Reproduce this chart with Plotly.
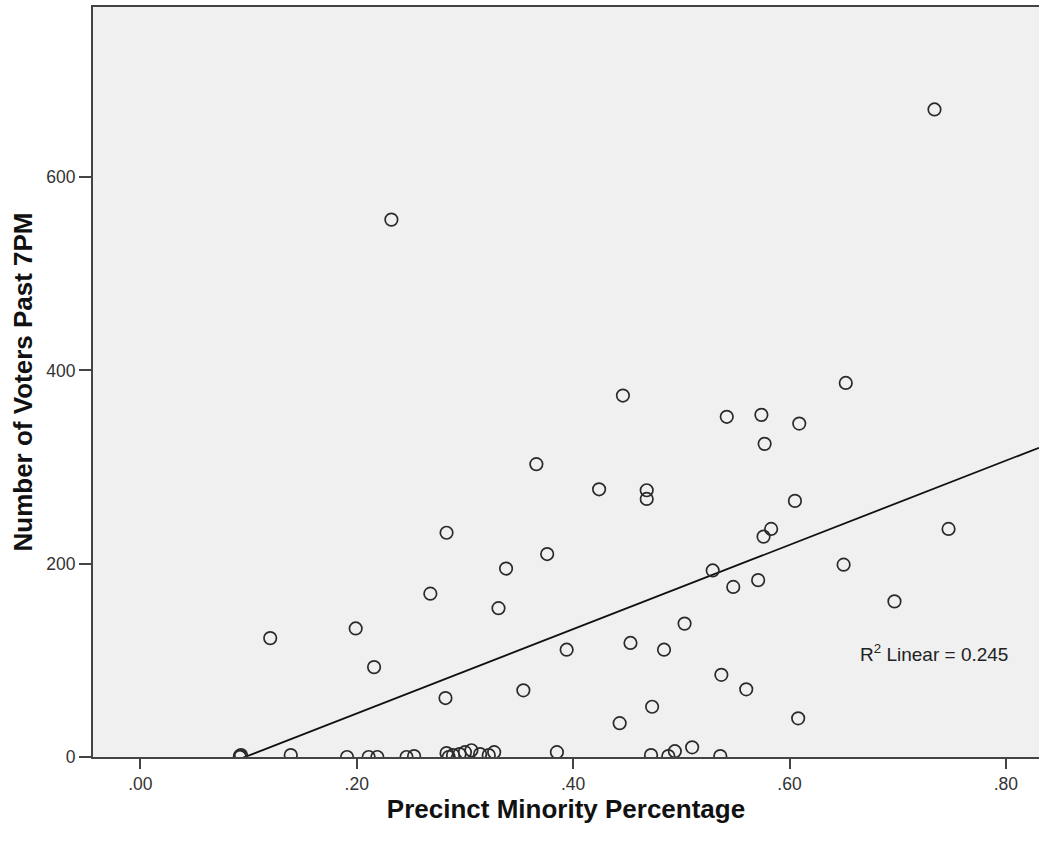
import numpy as np
import plotly.graph_objects as go

# Precinct minority percentage (x) and number of voters past 7PM (y)
minority_pct = [
    0.734, 0.232, 0.652, 0.446, 0.542, 0.574, 0.609, 0.577, 0.366, 0.424,
    0.468, 0.468, 0.605, 0.283, 0.583, 0.576, 0.747, 0.376, 0.338, 0.268,
    0.331, 0.199, 0.120, 0.216, 0.394, 0.354, 0.282,
    0.453, 0.484, 0.503, 0.529, 0.548, 0.571, 0.650, 0.697, 0.537, 0.560,
    0.608, 0.443, 0.473,
    0.092, 0.092, 0.093, 0.139, 0.191, 0.211, 0.219, 0.246, 0.253, 0.283,
    0.285, 0.289, 0.295, 0.300, 0.306, 0.314, 0.322, 0.327, 0.385, 0.472,
    0.488, 0.494, 0.510, 0.536,
]
voters_past_7pm = [
    670, 556, 387, 374, 352, 354, 345, 324, 303, 277,
    276, 267, 265, 232, 236, 228, 236, 210, 195, 169,
    154, 133, 123, 93, 111, 69, 61,
    118, 111, 138, 193, 176, 183, 199, 161, 85, 70,
    40, 35, 52,
    1, 0, 2, 2, 0, 0, 0, 0, 1, 4,
    0, 2, 3, 5, 7, 3, 2, 5, 5, 2,
    1, 6, 10, 1,
]

x_ticks = [0.0, 0.2, 0.4, 0.6, 0.8]
x_tick_labels = [".00", ".20", ".40", ".60", ".80"]
y_ticks = [0, 200, 400, 600]
r2_label = "R<sup>2</sup> Linear = 0.245"

x_range = [-0.0438, 0.8306]
y_range = [0, 776]

slope, intercept = np.polyfit(minority_pct, voters_past_7pm, 1)
fit_x = np.array(x_range)
fit_y = slope * fit_x + intercept

axis_col = "#444444"
font_family = "Liberation Sans, Arial, sans-serif"

fig = go.Figure()
fig.add_trace(go.Scatter(
    x=fit_x, y=fit_y, mode="lines",
    line=dict(color="#111111", width=1.8),
    hoverinfo="skip", showlegend=False,
))
fig.add_trace(go.Scatter(
    x=minority_pct, y=voters_past_7pm, mode="markers",
    marker=dict(symbol="circle-open", size=12.5, color="#2a2a2a",
                line=dict(width=1.7, color="#2a2a2a")),
    showlegend=False, cliponaxis=True,
))

fig.add_annotation(
    x=0.663, y=108, xref="x", yref="y", text=r2_label, showarrow=False,
    xanchor="left", yanchor="middle",
    font=dict(family=font_family, size=19, color="#222222"),
)

fig.update_layout(
    width=1039, height=843,
    margin=dict(l=93, r=0, t=7, b=86),
    paper_bgcolor="white", plot_bgcolor="#F0F0F0",
    font=dict(family=font_family, color="#222222"),
    xaxis=dict(
        range=x_range, tickvals=x_ticks, ticktext=x_tick_labels,
        showgrid=False, zeroline=False,
        showline=True, linecolor=axis_col, linewidth=2, mirror=True,
        ticks="outside", ticklen=10, tickwidth=1.5, tickcolor=axis_col,
        tickfont=dict(size=17.5, color="#333333"),
        title=dict(text="<b>Precinct Minority Percentage</b>", standoff=7,
                   font=dict(size=26, color="#111111")),
    ),
    yaxis=dict(
        range=y_range, tickvals=y_ticks,
        showgrid=False, zeroline=False,
        showline=True, linecolor=axis_col, linewidth=2,
        ticks="outside", ticklen=12, tickwidth=1.5, tickcolor=axis_col,
        tickfont=dict(size=17.5, color="#333333"),
        title=dict(text="<b>Number of Voters Past 7PM</b>", standoff=6,
                   font=dict(size=26, color="#111111")),
    ),
)

fig.write_html("out.html")
